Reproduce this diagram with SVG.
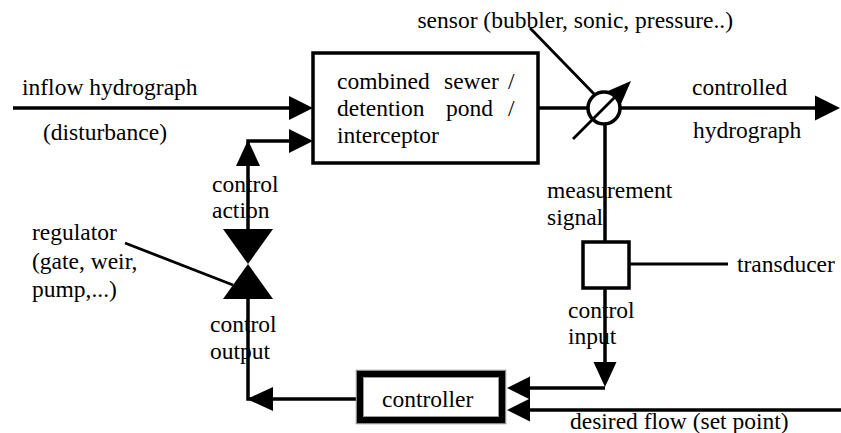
<svg xmlns="http://www.w3.org/2000/svg" width="841" height="433" viewBox="0 0 841 433">
<style>
  .ln { stroke: #000; stroke-width: 3.5; fill: none; }
  .thin { stroke: #000; stroke-width: 2.8; fill: none; }
  .ah { fill: #000; stroke: none; }
  .box { fill: #fff; stroke: #000; stroke-width: 3.5; }
  text { font-family: "Liberation Serif", "Times New Roman", serif; font-size: 23.5px; fill: #000; }
</style>
<rect width="841" height="433" fill="#fff"/>

<g id="connectors">
  <line class="ln" x1="13" y1="108" x2="291" y2="108"/>
  <polygon class="ah" points="289,96 313,108 289,120"/>
  <polyline class="ln" points="248,229 248,141 291,141"/>
  <polygon class="ah" points="289,129 313,141 289,153"/>
  <polygon class="ah" points="236,166 248,140 260,166"/>
  <line class="ln" x1="538" y1="108" x2="817" y2="108"/>
  <polygon class="ah" points="815,95.5 840,108 815,120.5"/>
  <line class="thin" x1="530" y1="28" x2="597" y2="97"/>
  <line class="ln" x1="605" y1="124" x2="605" y2="242"/>
  <line class="ln" x1="605" y1="288" x2="605" y2="364"/>
  <polygon class="ah" points="593.5,362 616.5,362 605,387"/>
  <polyline class="ln" points="605,388 528,388"/>
  <polygon class="ah" points="530,376.5 507,388 530,399.5"/>
  <line class="ln" x1="841" y1="410" x2="528" y2="410"/>
  <polygon class="ah" points="530,398.5 507,410 530,421.5"/>
  <polyline class="ln" points="356,399 248,399 248,299"/>
  <polygon class="ah" points="273,387 247,399 273,411"/>
  <line class="thin" x1="618" y1="264" x2="728" y2="264"/>
  <line class="thin" x1="125" y1="243" x2="233" y2="285"/>
</g>

<g id="process">
  <rect class="box" x="313" y="53" width="225" height="110"/>
  <text x="337" y="89">combined</text>
  <text x="444" y="89">sewer</text>
  <text x="508" y="89">/</text>
  <text x="337" y="116">detention</text>
  <text x="446" y="116">pond</text>
  <text x="508" y="116">/</text>
  <text x="337" y="143">interceptor</text>
</g>

<g id="sensor">
  <circle cx="604" cy="108" r="16" fill="#fff" stroke="#000" stroke-width="3.5"/>
  <line class="thin" x1="573" y1="139" x2="616" y2="96"/>
  <polygon class="ah" points="631,81 608,91 621,104"/>
</g>

<g id="transducer">
  <rect x="583" y="242" width="46" height="46" fill="#fff" stroke="#000" stroke-width="3.5"/>
</g>

<g id="regulator">
  <polygon class="ah" points="223,229 273,229 248,264"/>
  <polygon class="ah" points="248,264 223,299 273,299"/>
</g>

<g id="controller">
  <rect x="356.5" y="370.5" width="149" height="53" fill="#fff" stroke="#888" stroke-width="1.5"/>
  <rect x="360" y="374" width="142" height="46" fill="#fff" stroke="#000" stroke-width="6"/>
  <rect x="363.5" y="377.5" width="135" height="39" fill="none" stroke="#999" stroke-width="1"/>
  <text x="382" y="407">controller</text>
</g>

<g id="labels">
  <text x="22" y="95">inflow hydrograph</text>
  <text x="43" y="140">(disturbance)</text>
  <text x="733" y="28" text-anchor="end">sensor (bubbler, sonic, pressure..)</text>
  <text x="692" y="95">controlled</text>
  <text x="693" y="138">hydrograph</text>
  <text x="212" y="192">control</text>
  <text x="212" y="218">action</text>
  <text x="32" y="240">regulator</text>
  <text x="32" y="269">(gate, weir,</text>
  <text x="32" y="297">pump,...)</text>
  <text x="210" y="332">control</text>
  <text x="210" y="359">output</text>
  <text x="547" y="198">measurement</text>
  <text x="547" y="225">signal</text>
  <text x="737" y="272">transducer</text>
  <text x="568" y="318">control</text>
  <text x="568" y="344">input</text>
  <text x="570" y="429">desired flow (set point)</text>
</g>
</svg>
